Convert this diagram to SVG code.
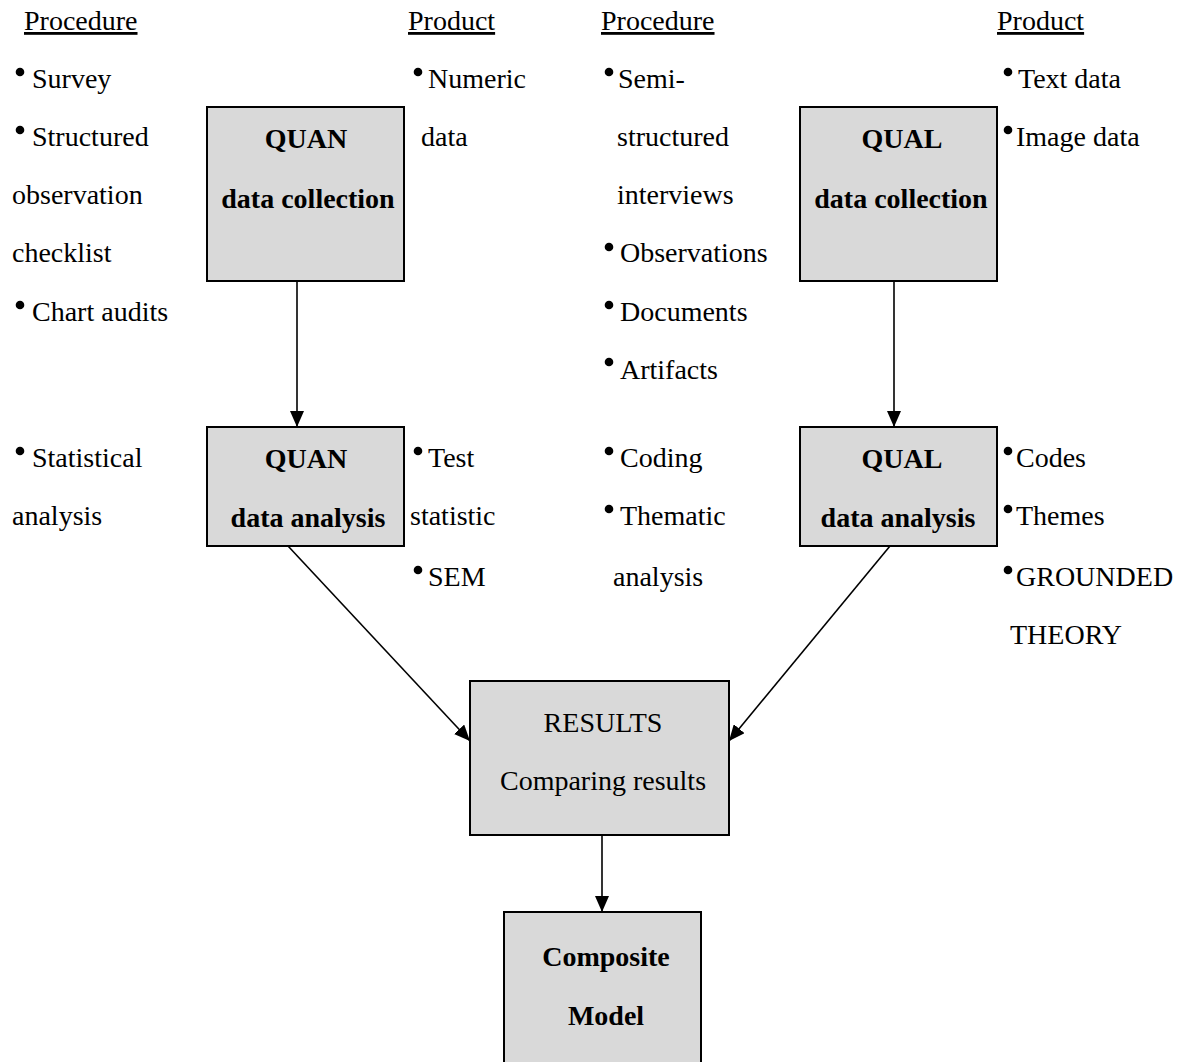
<svg xmlns="http://www.w3.org/2000/svg" width="1181" height="1062" viewBox="0 0 1181 1062">
<style>
text{font-family:"Liberation Serif","Times New Roman",serif;font-size:28px;fill:#000}
.b{font-weight:bold;text-anchor:middle}
.m{text-anchor:middle}
.h{text-decoration:underline}
.box{fill:#d9d9d9;stroke:#000;stroke-width:2}
.c{stroke:#000;stroke-width:1.6;fill:none}
</style>
<defs>
<marker id="ah" viewBox="0 0 16 14" refX="16" refY="7" markerWidth="16" markerHeight="14" markerUnits="userSpaceOnUse" orient="auto">
<path d="M0,0 L16,7 L0,14 Z" fill="#000"/>
</marker>
</defs>
<rect width="1181" height="1062" fill="#fff"/>
<g id="connectors">
<line class="c" x1="297" y1="281" x2="297" y2="427" marker-end="url(#ah)"/>
<line class="c" x1="894" y1="281" x2="894" y2="427" marker-end="url(#ah)"/>
<line class="c" x1="288" y1="546" x2="470" y2="741" marker-end="url(#ah)"/>
<line class="c" x1="890" y1="546" x2="729" y2="741" marker-end="url(#ah)"/>
<line class="c" x1="602" y1="835" x2="602" y2="912" marker-end="url(#ah)"/>
</g>
<g id="quan-collection"><rect class="box" x="207" y="107" width="197" height="174"/><text class="b" x="306" y="148">QUAN</text><text class="b" x="308" y="208">data collection</text></g>
<g id="quan-analysis"><rect class="box" x="207" y="427" width="197" height="119"/><text class="b" x="306" y="468">QUAN</text><text class="b" x="308" y="527">data analysis</text></g>
<g id="qual-collection"><rect class="box" x="800" y="107" width="197" height="174"/><text class="b" x="902" y="148">QUAL</text><text class="b" x="901" y="208">data collection</text></g>
<g id="qual-analysis"><rect class="box" x="800" y="427" width="197" height="119"/><text class="b" x="902" y="468">QUAL</text><text class="b" x="898" y="527">data analysis</text></g>
<g id="results"><rect class="box" x="470" y="681" width="259" height="154"/><text class="m" x="603" y="732">RESULTS</text><text class="m" x="603" y="790">Comparing results</text></g>
<g id="composite"><rect class="box" x="504" y="912" width="197" height="160"/><text class="b" x="606" y="966">Composite</text><text class="b" x="606" y="1025">Model</text></g>
<g id="labels">
<text class="h" x="24" y="30">Procedure</text>
<text class="h" x="408" y="30">Product</text>
<text class="h" x="601" y="30">Procedure</text>
<text class="h" x="997" y="30">Product</text>
<g fill="#000">
<circle cx="20" cy="72" r="4.3"/><circle cx="20" cy="130" r="4.3"/><circle cx="20" cy="305" r="4.3"/><circle cx="20" cy="451" r="4.3"/>
<circle cx="418" cy="72" r="4.3"/><circle cx="418" cy="451" r="4.3"/><circle cx="418" cy="570" r="4.3"/>
<circle cx="609" cy="72" r="4.3"/><circle cx="609" cy="247" r="4.3"/><circle cx="609" cy="305" r="4.3"/><circle cx="609" cy="362" r="4.3"/><circle cx="609" cy="451" r="4.3"/><circle cx="609" cy="509" r="4.3"/>
<circle cx="1008" cy="72" r="4.3"/><circle cx="1008" cy="130" r="4.3"/><circle cx="1008" cy="451" r="4.3"/><circle cx="1008" cy="509" r="4.3"/><circle cx="1008" cy="570" r="4.3"/>
</g>
<text x="32" y="88">Survey</text>
<text x="32" y="146">Structured</text>
<text x="12" y="204">observation</text>
<text x="12" y="262">checklist</text>
<text x="32" y="321">Chart audits</text>
<text x="32" y="467">Statistical</text>
<text x="12" y="525">analysis</text>
<text x="428" y="88">Numeric</text>
<text x="421" y="146">data</text>
<text x="428" y="467">Test</text>
<text x="410" y="525">statistic</text>
<text x="428" y="586">SEM</text>
<text x="618" y="88">Semi-</text>
<text x="617" y="146">structured</text>
<text x="617" y="204">interviews</text>
<text x="620" y="262">Observations</text>
<text x="620" y="321">Documents</text>
<text x="620" y="379">Artifacts</text>
<text x="620" y="467">Coding</text>
<text x="620" y="525">Thematic</text>
<text x="613" y="586">analysis</text>
<text x="1018" y="88">Text data</text>
<text x="1016" y="146">Image data</text>
<text x="1016" y="467">Codes</text>
<text x="1016" y="525">Themes</text>
<text x="1016" y="586">GROUNDED</text>
<text x="1010" y="644">THEORY</text>
</g>
</svg>
